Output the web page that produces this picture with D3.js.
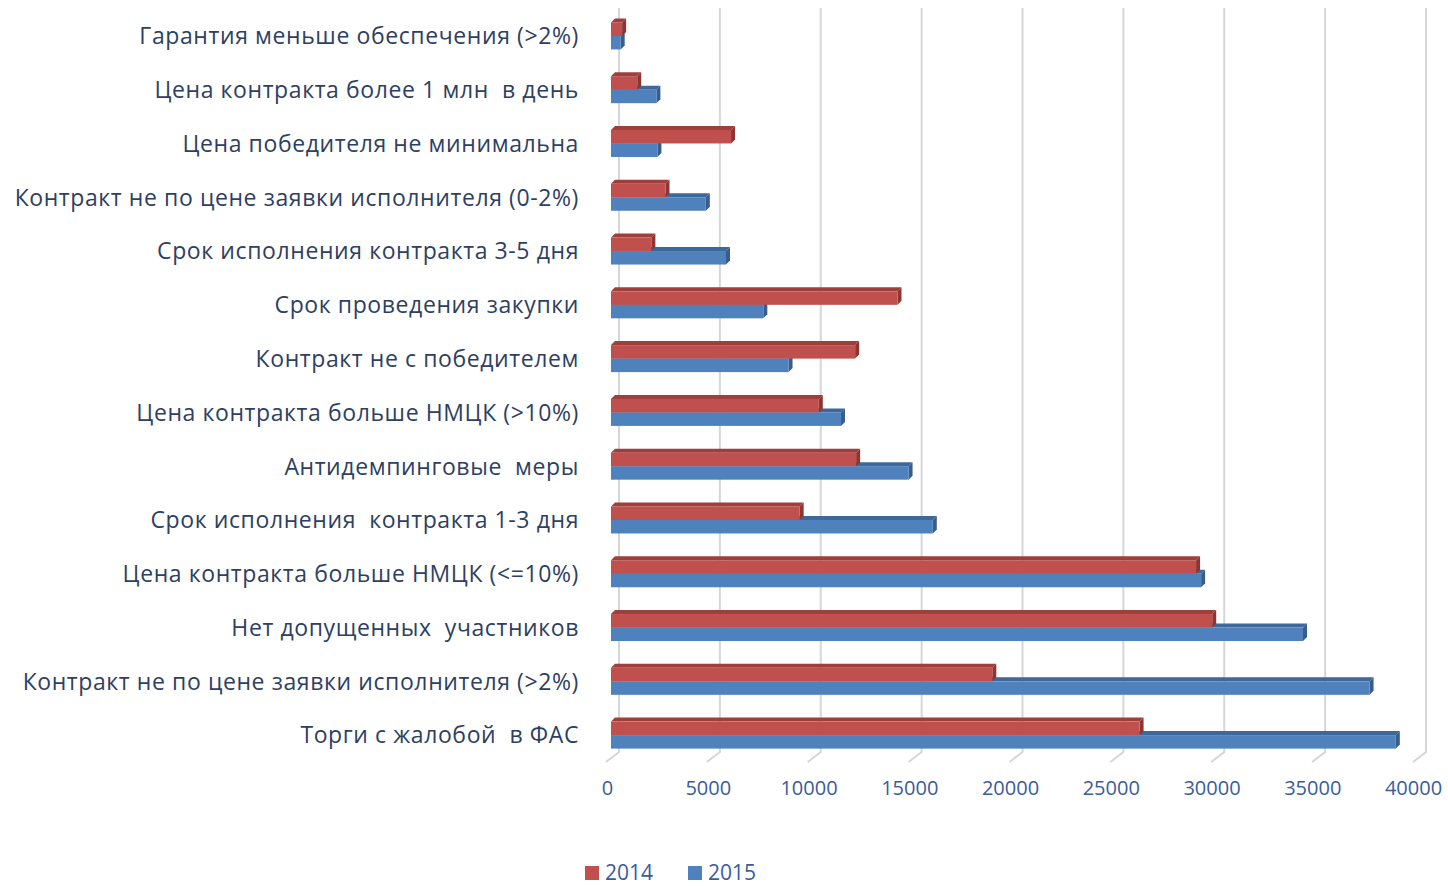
<!DOCTYPE html>
<html lang="ru">
<head>
    <meta charset="UTF-8">
    <title>Нарушения 2014-2015</title>
    <script src="https://d3js.org/d3.v7.min.js"></script>
    <style>
        body { margin: 0; background: #fff; }
        svg text { font-family: "Open Sans", "Noto Sans", sans-serif; }
    </style>
</head>
<body>
    <script>
        // categories, top to bottom
        const categories = [
            "Гарантия меньше обеспечения (>2%)",
            "Цена контракта более 1 млн  в день",
            "Цена победителя не минимальна",
            "Контракт не по цене заявки исполнителя (0-2%)",
            "Срок исполнения контракта 3-5 дня",
            "Срок проведения закупки",
            "Контракт не с победителем",
            "Цена контракта больше НМЦК (>10%)",
            "Антидемпинговые  меры",
            "Срок исполнения  контракта 1-3 дня",
            "Цена контракта больше НМЦК (<=10%)",
            "Нет допущенных  участников",
            "Контракт не по цене заявки исполнителя (>2%)",
            "Торги с жалобой  в ФАС"
        ];
        const series = ["2014", "2015"];
        const values2014 = [550, 1300, 5950, 2700, 2000, 14200, 12100, 10300, 12150, 9350, 29000, 29800, 18900, 26200];
        const values2015 = [480, 2250, 2300, 4700, 5700, 7550, 8800, 11400, 14750, 15950, 29250, 34300, 37600, 38900];
        const tickValues = [0, 5000, 10000, 15000, 20000, 25000, 30000, 35000, 40000];

        const w = 1448;
        const h = 886;
        const depth = 4; // 3d offset of bars

        const colors = { "2014": "#C0504D", "2015": "#4F81BD" };
        const sideColors = { "2014": "#8E3532", "2015": "#375D8C" };
        const topColors = { "2014": "#9E3F3C", "2015": "#3E679A" };

        const svg = d3.select("body")
            .append("svg")
            .attr("width", w)
            .attr("height", h);

        // value scale for the bar front faces
        const xScale = d3.scaleLinear()
            .domain([0, 40000])
            .range([611, 1418]);

        const yScale = d3.scaleBand()
            .domain(categories)
            .range([10, 763]);

        const pairScale = d3.scaleBand()
            .domain(series)
            .range([-14.5, 12.5]);

        // back wall gridlines + floor diagonals
        const grid = svg.append("g").attr("class", "grid");
        grid.selectAll("path")
            .data(tickValues)
            .enter()
            .append("path")
            .attr("d", d => `M${xScale(d) + 8},8 L${xScale(d) + 8},752 L${xScale(d) - 5},762`)
            .attr("fill", "none")
            .attr("stroke", "#d6d6d6")
            .attr("stroke-width", 2);

        // tick labels on the floor edge
        const xLabelScale = xScale.copy().range([607, 1413]);
        const xAxis = svg.append("g")
            .attr("transform", "translate(0, 778)")
            .call(d3.axisBottom(xLabelScale).tickValues(tickValues).tickSize(0).tickFormat(d3.format("d")));
        xAxis.select(".domain").remove();
        xAxis.selectAll("text")
            .style("font-size", "20px")
            .attr("fill", "#3A5C9C");

        // category labels
        const yAxis = svg.append("g")
            .attr("transform", `translate(${xScale(0)}, 0)`)
            .call(d3.axisLeft(yScale).tickSize(0).tickPadding(32));
        yAxis.select(".domain").remove();
        yAxis.selectAll("text")
            .style("font-size", "23px")
            .style("letter-spacing", "0.6px")
            .style("white-space", "pre")
            .attr("fill", "#2E3F62");

        // flatten data, blue drawn first so the red bar sits on top of it
        const barData = [];
        series.slice().reverse().forEach(s => {
            const vals = s === "2014" ? values2014 : values2015;
            categories.forEach((c, i) => barData.push({ cat: c, s: s, v: vals[i] }));
        });

        const bars = svg.append("g").attr("class", "bars")
            .selectAll("g")
            .data(barData)
            .enter()
            .append("g");

        const bh = pairScale.bandwidth();
        const y0 = d => yScale(d.cat) + yScale.bandwidth() / 2 + pairScale(d.s);

        // top face
        bars.append("path")
            .attr("d", d => {
                const x0 = xScale(0), x1 = xScale(d.v), y = y0(d);
                return `M${x0},${y} L${x0 + depth},${y - depth} L${x1 + depth},${y - depth} L${x1},${y} Z`;
            })
            .attr("fill", d => topColors[d.s]);

        // right side face
        bars.append("path")
            .attr("d", d => {
                const x1 = xScale(d.v), y = y0(d);
                return `M${x1},${y} L${x1 + depth},${y - depth} L${x1 + depth},${y + bh - depth} L${x1},${y + bh} Z`;
            })
            .attr("fill", d => sideColors[d.s]);

        // front face
        bars.append("rect")
            .attr("x", xScale(0))
            .attr("y", d => y0(d))
            .attr("width", d => xScale(d.v) - xScale(0))
            .attr("height", bh)
            .attr("fill", d => colors[d.s]);

        // legend
        const legend = svg.append("g")
            .attr("transform", "translate(585, 866)")
            .selectAll("g")
            .data(series)
            .enter()
            .append("g")
            .attr("transform", (d, i) => `translate(${i * 103}, 0)`);

        legend.append("rect")
            .attr("width", 14)
            .attr("height", 14)
            .attr("fill", d => colors[d]);

        legend.append("text")
            .attr("x", 20)
            .attr("y", 14)
            .style("font-size", "21px")
            .attr("fill", "#3A5C9C")
            .text(d => d);
    </script>
</body>
</html>
